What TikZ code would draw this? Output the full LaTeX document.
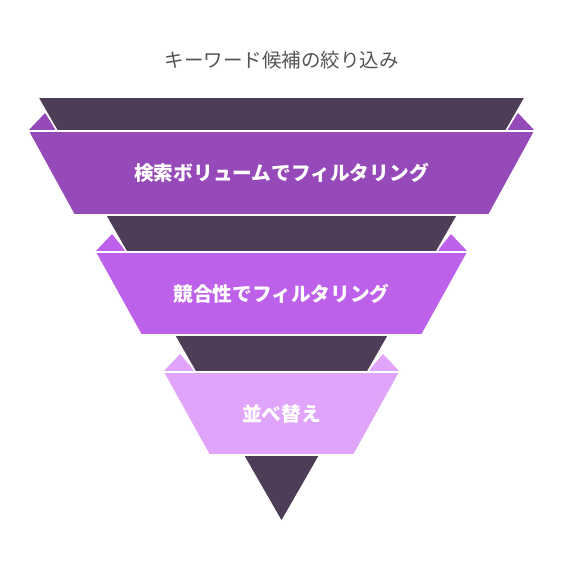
\documentclass[tikz,border=0pt]{standalone}
\usepackage{fontspec}
\setmainfont{Noto Sans CJK JP}
\definecolor{funneldark}{HTML}{4E3D56}
\definecolor{bandone}{HTML}{9649B8}
\definecolor{bandtwo}{HTML}{BD60EA}
\definecolor{bandthree}{HTML}{E0A5FB}
\definecolor{titlegray}{HTML}{555555}
\begin{document}
\begin{tikzpicture}[x=1pt, y=-1pt,
    funnelpart/.style={draw=white, line width=1.6pt, line join=miter},
    bandtext/.style={font=\bfseries\fontsize{19.7}{22}\selectfont, text=white}]
  \useasboundingbox (0,0) rectangle (565,588);

  % Titel
  \node[font=\fontsize{19.5}{22}\selectfont, text=titlegray] (title) at (281.5,60)
    {キーワード候補の絞り込み};

  % Ohren
  \foreach \yt/\xl/\xe/\col in {131/28/57/bandone, 252/95/126.5/bandtwo, 372/163/195.4/bandthree} {
    \fill[\col] (\xl,\yt) -- ({\xl+17},{\yt-18}) -- (\xe,\yt) -- cycle;
    \fill[\col] ({563-\xl},\yt) -- ({546-\xl},{\yt-18}) -- ({563-\xe},\yt) -- cycle;
  }

  % Trichter
  \fill[funneldark, funnelpart] (37.5,97) -- (525.5,97) -- (281.5,522) -- cycle;

  % Stufen
  \foreach \yt/\yb/\xl/\col/\nm/\txt in {
      131/215/28/bandone/volume/検索ボリュームでフィルタリング,
      252/335/95/bandtwo/competition/競合性でフィルタリング,
      372/455/163/bandthree/sorting/並べ替え} {
    \filldraw[fill=\col, funnelpart] (\xl,\yt) -- ({563-\xl},\yt)
      -- ({517-\xl},\yb) -- ({\xl+46},\yb) -- cycle;
    \node[bandtext] (\nm) at (281.5,{(\yt+\yb)/2}) {\txt};
  }
\end{tikzpicture}
\end{document}
